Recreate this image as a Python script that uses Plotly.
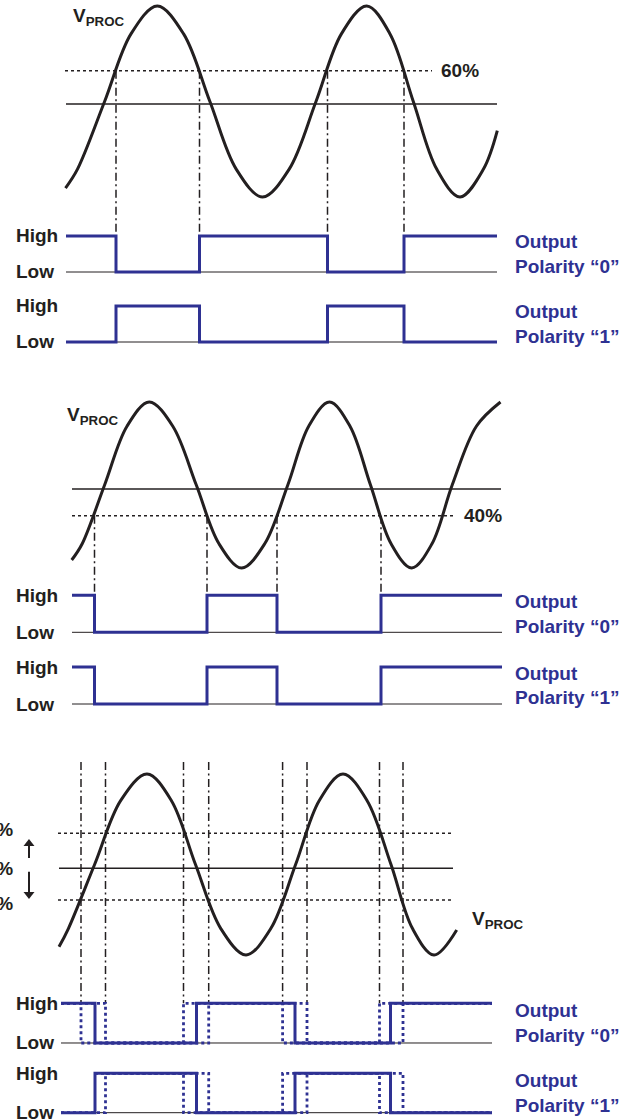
import plotly.graph_objects as go

# ------------------------------------------------------------------ data
# time axis is in arbitrary units; V_PROC levels are % of the swing (0 = trough, 100 = peak)
# digital outputs: 1 = High, 0 = Low

# Panel 1 : single threshold "60%"
P1_SINE_T = [65.5, 77.5, 104.6, 131, 157.3, 183.6, 209.9, 236.2, 262.5, 289.2, 316, 341.4,
             366.7, 390, 413.3, 436.7, 460, 483.5, 497.3]
P1_SINE_V = [4.7, 14.6, 50, 85.4, 100, 85.4, 50, 14.6, 0, 14.6, 50, 85.4,
             100, 85.4, 50, 14.6, 0, 14.6, 34.7]
P1_THRESH = 66.1
P1_MID = 48.7
P1_CROSS = [116, 199.5, 327.5, 404]
P1_POL0 = [1, 0, 1, 0, 1]
P1_POL1 = [0, 1, 0, 1, 0]
P1_T_SPAN = [66, 497]
P1_THRESH_SPAN = [65, 432]

# Panel 2 : single threshold "40%"
P2_SINE_T = [71.7, 82.2, 104.6, 127, 149.3, 172.8, 196.3, 219, 241.6, 264.7, 287.8, 308.7,
             329.5, 350, 370.5, 391.1, 411.7, 432, 452.2, 476.4, 500.5]
P2_SINE_V = [4.8, 14.6, 50, 85.4, 100, 85.4, 50, 14.6, 0, 14.6, 50, 85.4,
             100, 85.4, 50, 14.6, 0, 14.6, 50, 85.4, 100]
P2_THRESH = 31.5
P2_MID = 47.6
P2_CROSS = [94.5, 207, 277, 381]
P2_POL0 = [1, 0, 1, 0, 1]
P2_POL1 = [1, 0, 1, 0, 1]
P2_T_SPAN = [72, 502]
P2_SINE_SPAN_END = 501
P2_THRESH_SPAN = [72, 453]

# Panel 3 : threshold swept 40% .. 60%
P3_SINE_T = [59, 68.4, 94.6, 120.8, 147, 171.3, 195.5, 220.8, 246, 270.8, 295.6, 319.3,
             343, 367, 391, 412.5, 434, 456.7]
P3_SINE_V = [4.5, 14.6, 50, 85.4, 100, 85.4, 50, 14.6, 0, 14.6, 50, 85.4,
             100, 85.4, 50, 14.6, 0, 13.8]
P3_UPPER = 67.2
P3_MID = 47.9
P3_LOWER = 30.4
P3_CROSS_MID = [95, 196.5, 295, 390.5]
P3_CROSS_EARLY = [81, 183.5, 282.6, 379.5]
P3_CROSS_LATE = [105.5, 208.7, 307, 403]
P3_POL0 = [1, 0, 1, 0, 1]
P3_POL1 = [0, 1, 0, 1, 0]
P3_T_SPAN = [61, 492]
P3_LINE_SPAN = [58, 453]
P3_LEVEL_LABELS = ["60%", "50%", "40%"]

# ------------------------------------------------------------------ layout constants
W, H = 635, 1120
INK = "#231f20"
BLUE = "#2e3192"
FONT = "Liberation Sans, Arial, Helvetica, sans-serif"
FS = 19


def py(px):
    return 1 - px / H


fig = go.Figure()
layout_axes = {}


def sine_axis(name, peak_px, trough_px, pad=3.0):
    span = trough_px - peak_px
    lo = trough_px + pad / 100 * span
    hi = peak_px - pad / 100 * span
    layout_axes[name] = dict(domain=[max(0, py(lo)), min(1, py(hi))], range=[-pad, 100 + pad],
                             anchor="x", visible=False, fixedrange=True)


def lane_axis(name, high_px, low_px, pad=0.15):
    h = low_px - high_px
    layout_axes[name] = dict(domain=[max(0, py(low_px + pad * h)), min(1, py(high_px - pad * h))],
                             range=[-pad, 1 + pad], anchor="x", visible=False, fixedrange=True)


def line(x, y, yax, color, width, dash=None, shape="linear", smoothing=None, mode="lines", marker=None):
    ln = dict(color=color, width=width, shape=shape)
    if dash:
        ln["dash"] = dash
    if smoothing is not None:
        ln["smoothing"] = smoothing
    fig.add_trace(go.Scatter(x=x, y=y, xaxis="x", yaxis=yax, mode=mode, line=ln, marker=marker,
                             hoverinfo="skip", showlegend=False))


def step(start, cross, states, end):
    return [start] + list(cross) + [end], list(states) + [states[-1]]


def text(t, x, y, yref, xanchor="left", color=INK, yshift=0):
    fig.add_annotation(text=t, x=x, y=y, xref="x", yref=yref, xanchor=xanchor, yanchor="middle",
                       showarrow=False, align="left", yshift=yshift,
                       font=dict(family=FONT, size=FS, color=color, weight="bold"))


def connector(x, top_px, bottom_px, dash):
    fig.add_shape(type="line", xref="x", yref="paper", x0=x, x1=x, y0=py(top_px), y1=py(bottom_px),
                  line=dict(color=INK, width=1.5, dash=dash), layer="below")


def lane_labels(ax, lab):
    text("High", 13.5, 1, ax)
    text("Low", 13.5, 0, ax)
    text("Output", 513, 0.5, ax, color=BLUE, yshift=12.3)
    text("Polarity " + lab, 513, 0.5, ax, color=BLUE, yshift=-12.3)


DASHDOT = "8px,3.5px,2px,3.5px"
DOTTED = "3px,3px"
POL_LABELS = ["\u201c0\u201d", "\u201c1\u201d"]

# ---------------- panel geometry (pixels)
PANELS = [
    dict(sine="y", peak=6, trough=197, lanes=[("y4", 236, 272), ("y5", 306, 342)]),
    dict(sine="y2", peak=402, trough=568, lanes=[("y6", 595.3, 632.3), ("y7", 667, 704)]),
    dict(sine="y3", peak=774, trough=955, lanes=[("y8", 1003.3, 1043), ("y9", 1073.3, 1112.7)]),
]
names = {"y": "yaxis", "y2": "yaxis2", "y3": "yaxis3", "y4": "yaxis4", "y5": "yaxis5",
         "y6": "yaxis6", "y7": "yaxis7", "y8": "yaxis8", "y9": "yaxis9"}
for p in PANELS:
    sine_axis(names[p["sine"]], p["peak"], p["trough"])
    for (ax, hi, lo) in p["lanes"]:
        lane_axis(names[ax], hi, lo)


def level_px(panel, v):
    return panel["trough"] - v / 100 * (panel["trough"] - panel["peak"])


def lanes(panel, span, pol0, pol1, cross):
    for (ax, hi, lo), states, lab in zip(panel["lanes"], (pol0, pol1), POL_LABELS):
        line(span, [0, 0], ax, INK, 1)
        x, y = step(span[0], cross, states, span[1])
        line(x, y, ax, BLUE, 3, shape="hv")
        lane_labels(ax, lab)


# ---------------- panel 1
pa = PANELS[0]
for c in P1_CROSS:
    connector(c, level_px(pa, P1_THRESH), pa["lanes"][0][1], DASHDOT)
line(P1_THRESH_SPAN, [P1_THRESH] * 2, "y", INK, 1.5, dash=DOTTED)
line(P1_T_SPAN, [P1_MID] * 2, "y", INK, 1.5)
line(P1_SINE_T, P1_SINE_V, "y", INK, 3, shape="spline", smoothing=1.0)
text("60%", 439, P1_THRESH, "y")
text("V<sub>PROC</sub>", 71, 94.5, "y")
lanes(pa, P1_T_SPAN, P1_POL0, P1_POL1, P1_CROSS)

# ---------------- panel 2
pb = PANELS[1]
for c in P2_CROSS:
    connector(c, level_px(pb, P2_THRESH), pb["lanes"][0][1], DASHDOT)
line(P2_THRESH_SPAN, [P2_THRESH] * 2, "y2", INK, 1.5, dash=DOTTED)
line([P2_T_SPAN[0], P2_SINE_SPAN_END], [P2_MID] * 2, "y2", INK, 1.5)
line(P2_SINE_T, P2_SINE_V, "y2", INK, 3, shape="spline", smoothing=1.0)
text("40%", 462, P2_THRESH, "y2")
text("V<sub>PROC</sub>", 65, 91.8, "y2")
lanes(pb, P2_T_SPAN, P2_POL0, P2_POL1, P2_CROSS)

# ---------------- panel 3
pc = PANELS[2]
for c in sorted(P3_CROSS_EARLY + P3_CROSS_LATE):
    connector(c, 762, pc["lanes"][0][1], DASHDOT)
line(P3_LINE_SPAN, [P3_UPPER] * 2, "y3", INK, 1.5, dash=DOTTED)
line(P3_LINE_SPAN, [P3_LOWER] * 2, "y3", INK, 1.5, dash=DOTTED)
line([P3_LINE_SPAN[0] + 1, P3_LINE_SPAN[1]], [P3_MID] * 2, "y3", INK, 1.5)
line(P3_SINE_T, P3_SINE_V, "y3", INK, 3, shape="spline", smoothing=1.0)
text("V<sub>PROC</sub>", 470, 19.2, "y3")
for lab, v in zip(P3_LEVEL_LABELS, [P3_UPPER + 2, P3_MID, P3_LOWER - 2]):
    text(lab, 14.5, v, "y3", xanchor="right")
# sweep arrows (shaft + head), levels in % of swing
ARROW_X = 29
for tail, tip, head, sym in [(53.6, 61.0, 61.5, "triangle-up"), (46.0, 34.0, 33.5, "triangle-down")]:
    line([ARROW_X, ARROW_X], [tail, tip], "y3", INK, 2)
    line([ARROW_X], [head], "y3", INK, 0, mode="markers",
         marker=dict(symbol=sym, size=9.5, color=INK, line=dict(width=0)))

for (ax, hi, lo), states, lab, early in zip(pc["lanes"], (P3_POL0, P3_POL1), POL_LABELS, (True, False)):
    line(P3_T_SPAN, [0, 0], ax, INK, 1)
    # dotted alternatives (threshold at 40% / 60%)
    if early:
        x, y = step(P3_T_SPAN[0], P3_CROSS_EARLY, states, P3_T_SPAN[1])
    else:
        x, y = step(P3_CROSS_MID[0], P3_CROSS_EARLY[1:], states[1:], P3_T_SPAN[1])
    line(x, y, ax, BLUE, 2.8, dash="dot", shape="hv")
    x, y = step(P3_T_SPAN[0], P3_CROSS_LATE, states, P3_T_SPAN[1])
    line(x, y, ax, BLUE, 2.8, dash="dot", shape="hv")
    x, y = step(P3_T_SPAN[0], P3_CROSS_MID, states, P3_T_SPAN[1])
    line(x, y, ax, BLUE, 3, shape="hv")
    lane_labels(ax, lab)

fig.update_layout(
    width=W, height=H, margin=dict(l=0, r=0, t=0, b=0),
    paper_bgcolor="white", plot_bgcolor="rgba(0,0,0,0)",
    xaxis=dict(domain=[0, 1], range=[0, W], visible=False, fixedrange=True, anchor="y"),
    showlegend=False,
    **layout_axes,
)
fig.write_html("out.html", config={"displayModeBar": False},
               post_script="document.body.style.margin='0px';document.body.style.padding='0px';")
